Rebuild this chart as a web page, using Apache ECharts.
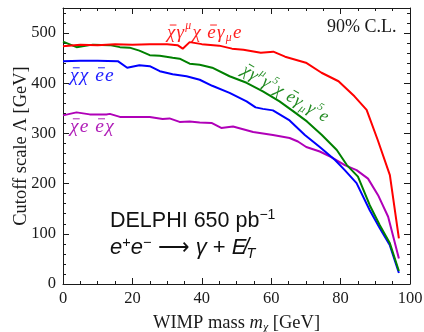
<!DOCTYPE html>
<html>
<head>
<meta charset="utf-8">
<script src="https://cdn.jsdelivr.net/npm/echarts@6/dist/echarts.min.js"></script>
<style>
  html, body { margin: 0; padding: 0; background: #fff; }
  #chart { width: 424px; height: 332px; }
</style>
</head>
<body>
<div id="chart"></div>
<script>
// Vector operator  (red)
const vectorMass   = [0, 5, 10, 15, 20, 25, 30, 33, 34.5, 36.5, 40, 45, 48.7, 52, 57, 60.6, 64, 70, 74.5, 79.4, 84, 87.5, 90.7, 94.2, 96.8];
const vectorLambda = [474, 477, 476, 478, 477, 478, 478, 476, 469, 482, 478, 475, 469, 467, 461, 463, 453, 441, 421, 404, 374, 347, 287, 217, 91];

// Axial-vector operator (green)
const axialMass   = [0, 3.9, 8.6, 13.5, 16.4, 19.2, 22, 25, 27.9, 31.6, 33.6, 36.5, 39.4, 43, 48, 52.9, 57.6, 62.4, 66.2, 70.3, 74.6, 78.9, 81.8, 85, 88.4, 91.3, 94.2, 96.8];
const axialLambda = [483, 472, 477, 476, 472, 471, 465, 456, 455, 451, 449, 439, 437, 431, 414, 401, 384, 364, 345, 324, 297, 267, 237, 214, 157, 117, 81, 26];

// Scalar operator (blue)
const scalarMass   = [0, 5, 10, 15.8, 18.5, 22, 25, 27.9, 31.6, 35.6, 39.4, 43, 48, 52.9, 55.5, 57.6, 60.5, 65.3, 69.7, 74, 78.4, 81.2, 84.6, 88.4, 91.3, 94.2, 96.8];
const scalarLambda = [444, 445, 445, 444, 431, 436, 434, 424, 418, 414, 407, 395, 381, 364, 352, 349, 346, 326, 297, 273, 247, 227, 201, 147, 111, 77, 22];

// t-channel scalar operator (purple)
const tchanMass   = [0, 3.9, 7.7, 12.5, 13.5, 16.4, 25, 28.7, 30.7, 33.6, 36.5, 39.4, 42.8, 45.6, 49, 54.8, 60.5, 65.3, 67.7, 70.1, 74, 77.3, 81.2, 84.6, 87.9, 90.8, 93.7, 96.8];
const tchanLambda = [336, 342, 338, 338, 339, 333, 333, 329, 330, 323, 324, 322, 321, 311, 314, 303, 297, 291, 284, 273, 264, 253, 237, 227, 210, 177, 134, 51];

const xTicks = [0, 20, 40, 60, 80, 100];
const yTicks = [0, 100, 200, 300, 400, 500];

// Operator labels: [text, kind, overbar]
const vectorLabel = [['χ', 'n', 1], ['γ', 'n'], ['μ', 'sup'], ['χ', 'n'], [' ', 'sp'], ['e', 'n', 1], ['γ', 'n'], ['μ', 'sub'], ['e', 'n']];
const axialLabel  = [['χ', 'n', 1], ['γ', 'n'], ['μ', 'sup'], ['γ', 'n'], ['5', 'sup'], ['χ', 'n'], [' ', 'sp'], ['e', 'n', 1], ['γ', 'n'], ['μ', 'sub'], ['γ', 'n'], ['5', 'sup'], ['e', 'n']];
const scalarLabel = [['χ', 'n', 1], ['χ', 'n'], [' ', 'sp'], ['e', 'n', 1], ['e', 'n']];
const tchanLabel  = [['χ', 'n', 1], ['e', 'n'], [' ', 'sp'], ['e', 'n', 1], ['χ', 'n']];

const pairs = (xs, ys) => xs.map((x, i) => [x, ys[i]]);

const SERIF = '"Liberation Serif", "DejaVu Serif", serif';
const SANS = '"Liberation Sans", Arial, sans-serif';
const INK = '#1a1a1a';

const measureCtx = document.createElement('canvas').getContext('2d');

// Builds an italic math-style label as a graphic group (glyphs, raised/lowered indices, overbars)
function mathLabel(tokens, opts) {
  const size = opts.size, color = opts.color;
  const children = [];
  let cx = 0;
  tokens.forEach(([t, kind, bar]) => {
    if (kind === 'sp') { cx += size * 0.28; return; }
    const fs = kind === 'n' ? size : size * 0.62;
    const font = 'italic ' + fs + 'px ' + SERIF;
    measureCtx.font = font;
    const w = measureCtx.measureText(t).width;
    const dy = kind === 'sup' ? -size * 0.36 : kind === 'sub' ? size * 0.26 : 0;
    children.push({ type: 'text', x: cx, y: dy,
      style: { text: t, font: font, fill: color, align: 'left', verticalAlign: 'middle' } });
    if (bar) {
      const by = -size * 0.42;
      children.push({ type: 'line', shape: { x1: cx + w * 0.15 + size * 0.08, y1: by, x2: cx + w * 0.95 + size * 0.08, y2: by },
        style: { stroke: color, lineWidth: 1 } });
    }
    cx += w + size * 0.065;
  });
  return { type: 'group', x: opts.x, y: opts.y, rotation: opts.rotation || 0, z: 10, children: children };
}

const frameTick = { show: true, inside: true, length: 6, lineStyle: { color: INK, width: 1 } };
const frameMinor = { show: true, splitNumber: 4, length: 3, lineStyle: { color: INK, width: 1 } };
const yMinor = { show: true, splitNumber: 5, length: 3, lineStyle: { color: INK, width: 1 } };
const frameLine = { show: true, onZero: false, lineStyle: { color: INK, width: 1 } };

const chart = echarts.init(document.getElementById('chart'), null, { renderer: 'canvas' });

chart.setOption({
  animation: false,
  backgroundColor: '#fff',
  grid: { left: 63, right: 14, top: 8, bottom: 48, containLabel: false, outerBoundsMode: 'none' },
  xAxis: [
    {
      type: 'value', min: 0, max: 100, interval: 20, position: 'bottom',
      axisLine: frameLine, axisTick: frameTick, minorTick: frameMinor,
      splitLine: { show: false },
      axisLabel: { color: INK, fontFamily: SERIF, fontSize: 16.5, margin: 6,
        formatter: v => xTicks.includes(v) ? String(v) : '' },
      name: 'WIMP mass {i|m}{s|χ} [GeV]', nameLocation: 'middle', nameGap: 28, nameMoveOverlap: false,
      nameTextStyle: { color: INK, fontFamily: SERIF, fontSize: 18.5, lineHeight: 22,
        rich: { i: { fontFamily: SERIF, fontStyle: 'italic', fontSize: 18.5, color: INK, lineHeight: 22 },
                s: { fontFamily: SERIF, fontStyle: 'italic', fontSize: 12, color: INK, verticalAlign: 'bottom', lineHeight: 12 } } }
    },
    {
      type: 'value', min: 0, max: 100, interval: 20, position: 'top',
      axisLine: frameLine, axisTick: frameTick, minorTick: frameMinor,
      splitLine: { show: false }, axisLabel: { show: false }
    }
  ],
  yAxis: [
    {
      type: 'value', min: 0, max: 550, interval: 100, position: 'left',
      axisLine: frameLine, axisTick: frameTick, minorTick: yMinor,
      splitLine: { show: false },
      axisLabel: { color: INK, fontFamily: SERIF, fontSize: 16.5, margin: 7, showMaxLabel: false,
        formatter: v => yTicks.includes(v) ? String(v) : '' },
      name: 'Cutoff scale Λ [GeV]', nameLocation: 'middle', nameGap: 32, nameRotate: 90, nameMoveOverlap: false,
      nameTextStyle: { color: INK, fontFamily: SERIF, fontSize: 18.5 }
    },
    {
      type: 'value', min: 0, max: 550, interval: 100, position: 'right',
      axisLine: frameLine, axisTick: frameTick, minorTick: yMinor,
      splitLine: { show: false }, axisLabel: { show: false }
    }
  ],
  series: [
    { name: 'vector', type: 'line', data: pairs(vectorMass, vectorLambda), showSymbol: false, symbol: 'none',
      lineStyle: { color: '#ff0000', width: 2 }, itemStyle: { color: '#ff0000' }, z: 4 },
    { name: 'axial', type: 'line', data: pairs(axialMass, axialLambda), showSymbol: false, symbol: 'none',
      lineStyle: { color: '#008000', width: 2 }, itemStyle: { color: '#008000' }, z: 3 },
    { name: 'scalar', type: 'line', data: pairs(scalarMass, scalarLambda), showSymbol: false, symbol: 'none',
      lineStyle: { color: '#0000ff', width: 2 }, itemStyle: { color: '#0000ff' }, z: 2 },
    { name: 'tchannel', type: 'line', data: pairs(tchanMass, tchanLambda), showSymbol: false, symbol: 'none',
      lineStyle: { color: '#b000b8', width: 2 }, itemStyle: { color: '#b000b8' }, z: 1 }
  ],
  graphic: [
    { type: 'text', left: 327, top: 18, z: 10,
      style: { text: '90% C.L.', fill: INK, font: '18px ' + SERIF } },
    mathLabel(vectorLabel, { x: 167, y: 33, color: '#ff2020', size: 19 }),
    mathLabel(scalarLabel, { x: 70, y: 76, color: '#2020ff', size: 19.5 }),
    mathLabel(tchanLabel,  { x: 70, y: 127, color: '#b020b8', size: 19.5 }),
    mathLabel(axialLabel,  { x: 243, y: 69, rotation: -0.53, color: '#228b22', size: 17.5 }),
    { type: 'text', left: 110, top: 208, z: 10,
      style: { text: '{n|DELPHI 650 pb}{sup|−1}', fill: '#111', font: '21.5px ' + SANS,
        rich: { n: { fontFamily: SANS, fontSize: 21.5, color: '#111', lineHeight: 26 },
                sup: { fontFamily: SANS, fontSize: 14, color: '#111', verticalAlign: 'top', lineHeight: 15 } } } },
    { type: 'text', left: 110, top: 235, z: 10,
      style: { text: '{i|e}{sup|+}{i|e}{sup|−}{n| ⟶ }{i|γ}{n| + }{i|E̸}{sub|T}', fill: '#111', font: 'italic 22px ' + SANS,
        rich: {
          i:   { fontFamily: SANS, fontStyle: 'italic', fontSize: 22, color: '#111', lineHeight: 26 },
          n:   { fontFamily: SANS, fontSize: 22, color: '#111', lineHeight: 26 },
          sup: { fontFamily: SANS, fontSize: 14.5, color: '#111', verticalAlign: 'top', lineHeight: 15 },
          sub: { fontFamily: SANS, fontStyle: 'italic', fontSize: 14.5, color: '#111', verticalAlign: 'bottom', lineHeight: 15 }
        } } }
  ]
});
</script>
</body>
</html>
